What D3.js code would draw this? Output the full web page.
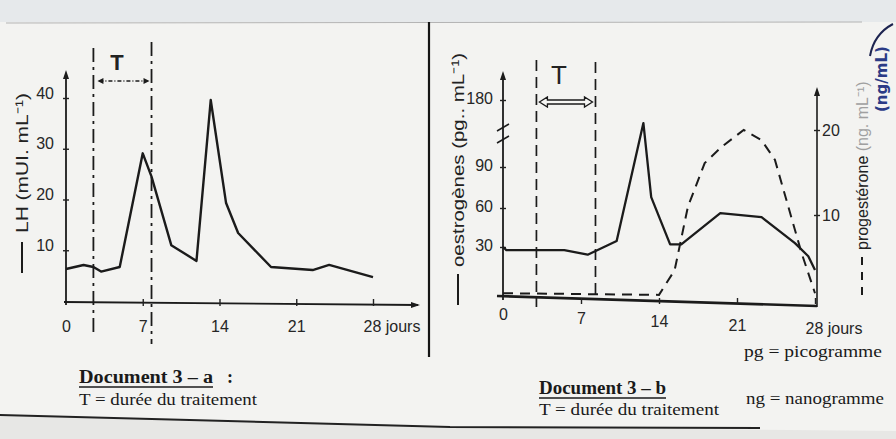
<!DOCTYPE html>
<html>
<head>
<meta charset="utf-8">
<script src="https://cdn.jsdelivr.net/npm/d3@7"></script>
<style>
  body { margin: 0; background: #e9e9e7; overflow: hidden; }
  svg { display: block; }
  .tick text { font-family: "Liberation Sans", Arial, sans-serif; font-size: 16px; fill: #262626; }
  .tick line { stroke: #222; stroke-width: 1.4; }
  .lbl { font-family: "Liberation Sans", Arial, sans-serif; fill: #222; }
  .doc { font-family: "Liberation Serif", "DejaVu Serif", serif; fill: #1a1a1a; }
</style>
</head>
<body>
<svg id="page" width="896" height="439"></svg>
<script>
const days = [0, 7, 14, 21, 28]

// Document 3-a : LH
const lhDays   = [0, 1.6, 2.5, 3.2, 4.9, 7.0, 7.8, 9.6, 11.9, 13.2, 14.6, 15.7, 18.7, 22.5, 24.0, 28]
const lhValues = [6.3, 7.1, 6.7, 5.8, 6.7, 29.1, 24.5, 11, 7.9, 39.6, 19.3, 13.4, 6.7, 6.1, 7.1, 4.7]
const lhTicks  = [10, 20, 30, 40]
const treatA   = [2.5, 7.8]

// Document 3-b : oestrogènes (trait plein) et progestérone (tirets)
const oeDays   = [0, 0.3, 5.5, 7.6, 10.2, 12.6, 13.3, 15.0, 16.0, 19.5, 23.2, 26.2, 27.4, 28]
const oeValues = [30, 28, 28, 25, 34.6, 149, 68, 32, 32, 56, 53, 33, 24, 15]
const oeTicks  = [30, 60, 90, 180]

const progDays   = [0, 14, 15.4, 16.6, 18.1, 19.6, 21.6, 23.2, 24.4, 25.6, 26.8, 28]
const progValues = [0.8, 0.6, 3.5, 11, 16.1, 18, 20, 18.8, 16.5, 11, 5.5, 0.8]
const progTicks  = [10, 20]
const treatB     = [3, 8.3]

const svg = d3.select("#page")

// fond "papier"
svg.append("rect").attr("width", 896).attr("height", 439).attr("fill", "#f3f3f1")
svg.append("rect").attr("width", 896).attr("height", 22).attr("fill", "#e6e9eb")
svg.append("line").attr("x1", 6).attr("x2", 862).attr("y1", 23).attr("y2", 22)
    .attr("stroke", "#b4b4b4").attr("stroke-width", 1)
svg.append("path").attr("d", "M0,415 L450,427 L896,431 L896,439 L0,439 Z").attr("fill", "#e7e7e5")
svg.append("path").attr("d", "M0,415 L450,427 L760,428").attr("fill", "none")
    .attr("stroke", "#222").attr("stroke-width", 2)

// séparateur vertical
svg.append("line").attr("x1", 429).attr("x2", 429).attr("y1", 22).attr("y2", 357)
    .attr("stroke", "#151515").attr("stroke-width", 2.2)

const ink = "#1b1b1b"

function arrowHead(g, x, y, dir) {
  // petite pointe de flèche pleine
  const p = dir === "up" ? [[x, y], [x - 3, y + 9], [x + 3, y + 9]]
                         : [[x, y], [x - 9, y - 3], [x - 9, y + 3]]
  g.append("path").attr("d", "M" + p.join("L") + "Z").attr("fill", ink)
}

// ---------------- Document 3-a ----------------
const gA = svg.append("g")
const xA = d3.scaleLinear().domain([0, 28]).range([66, 373])
const yA = d3.scaleLinear().domain([0, 40]).range([301, 98])

// axes
gA.append("line").attr("x1", 64).attr("y1", 302).attr("x2", 418).attr("y2", 305)
    .attr("stroke", ink).attr("stroke-width", 1.8)
arrowHead(gA, 420, 305, "right")
gA.append("line").attr("x1", 66).attr("y1", 305).attr("x2", 66).attr("y2", 74)
    .attr("stroke", ink).attr("stroke-width", 1.8)
arrowHead(gA, 66, 70, "up")

gA.append("g").attr("transform", "translate(0,299)")
    .call(d3.axisBottom(xA).tickValues(days).tickSize(7).tickPadding(15)
      .tickFormat(d => d === 28 ? "28 jours" : d))
    .call(g => g.select(".domain").remove())
    .call(g => g.selectAll(".tick").filter(d => d === 0).select("line").remove())
    .call(g => g.selectAll(".tick text").filter(d => d === 28).attr("text-anchor", "start").attr("x", -10))

gA.append("g").attr("transform", "translate(69,0)")
    .call(d3.axisLeft(yA).tickValues(lhTicks).tickSize(6).tickPadding(9))
    .call(g => g.select(".domain").remove())
    .call(g => g.selectAll(".tick text").attr("dy", "0"))

// durée du traitement
treatA.forEach((d, i) => {
  gA.append("line").attr("x1", xA(d)).attr("x2", xA(d))
      .attr("y1", i ? 42 : 48).attr("y2", i ? 344 : 332)
      .attr("stroke", ink).attr("stroke-width", 1.8).attr("stroke-dasharray", "14,5,3,5")
})
gA.append("line").attr("x1", xA(treatA[0]) + 6).attr("x2", xA(treatA[1]) - 4).attr("y1", 81).attr("y2", 81)
    .attr("stroke", ink).attr("stroke-width", 1.3).attr("stroke-dasharray", "4,2,1,2")
gA.append("path").attr("d", `M${xA(treatA[0]) + 4},81 l6,-3 l0,6 Z M${xA(treatA[1]) - 2},81 l-6,-3 l0,6 Z`).attr("fill", ink)
gA.append("text").attr("class", "lbl").attr("x", 117).attr("y", 70).attr("text-anchor", "middle")
    .attr("font-size", 22).attr("font-weight", "bold").text("T")

// courbe LH
gA.append("path")
    .attr("d", d3.line().x((d, i) => xA(lhDays[i])).y(d => yA(d))(lhValues))
    .attr("fill", "none").attr("stroke", ink).attr("stroke-width", 2.4).attr("stroke-linejoin", "round")

// titre d'axe
gA.append("text").attr("class", "lbl").attr("font-size", 17)
    .attr("transform", "translate(28,233) rotate(-90)")
    .attr("textLength", 140).attr("lengthAdjust", "spacingAndGlyphs")
    .text("LH (mUI. mL⁻¹)")
gA.append("line").attr("x1", 22).attr("x2", 22).attr("y1", 242).attr("y2", 273)
    .attr("stroke", ink).attr("stroke-width", 2)

// ---------------- Document 3-b ----------------
const gB = svg.append("g")
const xB = d3.scaleLinear().domain([0, 28]).range([503, 815])
// axe interrompu entre 90 et 180
const yOe = d3.scaleLinear().domain([0, 30, 60, 90, 180]).range([293, 247, 208, 167, 100])
const yPr = d3.scaleLinear().domain([0, 20]).range([300, 130])

gB.append("line").attr("x1", 497).attr("y1", 296).attr("x2", 817).attr("y2", 306)
    .attr("stroke", ink).attr("stroke-width", 2.6)
gB.append("line").attr("x1", 503).attr("y1", 300).attr("x2", 503).attr("y2", 76)
    .attr("stroke", ink).attr("stroke-width", 1.8)
arrowHead(gB, 503, 71, "up")
gB.append("line").attr("x1", 817).attr("y1", 307).attr("x2", 817).attr("y2", 92)
    .attr("stroke", ink).attr("stroke-width", 1.6)
arrowHead(gB, 817, 87, "up")
// marques de rupture
gB.append("path").attr("d", "M497,131 L509,124 M497,143 L509,136")
    .attr("stroke", ink).attr("stroke-width", 1.5)

gB.append("g").attr("transform", "translate(0,298)")
    .call(d3.axisBottom(xB).tickValues(days).tickSize(6).tickPadding(12)
      .tickFormat(d => d === 28 ? "28 jours" : d))
    .call(g => g.select(".domain").remove())
    .call(g => g.selectAll(".tick text").attr("y", d => 11 + d * 0.5))
    .call(g => g.selectAll(".tick").filter(d => d === 0).select("line").remove())
    .call(g => g.selectAll(".tick text").filter(d => d === 28).attr("text-anchor", "start").attr("x", -10))

gB.append("g").attr("transform", "translate(506,0)")
    .call(d3.axisLeft(yOe).tickValues(oeTicks).tickSize(6).tickPadding(7))
    .call(g => g.select(".domain").remove())
    .call(g => g.selectAll(".tick text").attr("dy", "0.2em"))

gB.append("g").attr("transform", "translate(814,0)")
    .call(d3.axisRight(yPr).tickValues(progTicks).tickSize(6).tickPadding(2))
    .call(g => g.select(".domain").remove())

// durée du traitement
treatB.forEach((d, i) => {
  gB.append("line").attr("x1", xB(d)).attr("x2", xB(d))
      .attr("y1", i ? 62 : 60).attr("y2", i ? 300 : 307)
      .attr("stroke", ink).attr("stroke-width", 1.7).attr("stroke-dasharray", "11,6")
})
gB.append("text").attr("class", "lbl").attr("x", 559).attr("y", 84).attr("text-anchor", "middle")
    .attr("font-size", 26).text("T")
gB.append("path")
    .attr("d", `M${xB(treatB[0]) + 3},102 l8,-5 l0,3 L${xB(treatB[1]) - 11},100 l0,-3 l8,5 l-8,5 l0,-3 L${xB(treatB[0]) + 11},104 l0,3 Z`)
    .attr("fill", "#f6f6f4").attr("stroke", ink).attr("stroke-width", 1.3)

// progestérone (tirets)
gB.append("path")
    .attr("d", d3.line().x((d, i) => xB(progDays[i])).y(d => yPr(d))(progValues))
    .attr("fill", "none").attr("stroke", ink).attr("stroke-width", 2).attr("stroke-dasharray", "10,7")

// oestrogènes (trait plein)
gB.append("path")
    .attr("d", d3.line().x((d, i) => xB(oeDays[i])).y(d => yOe(d))(oeValues))
    .attr("fill", "none").attr("stroke", ink).attr("stroke-width", 2.3).attr("stroke-linejoin", "round")

// titres d'axes
gB.append("text").attr("class", "lbl").attr("font-size", 17)
    .attr("transform", "translate(464,267) rotate(-90)")
    .attr("textLength", 214).attr("lengthAdjust", "spacingAndGlyphs")
    .text("oestrogènes (pg.. mL⁻¹)")
gB.append("line").attr("x1", 458).attr("x2", 458).attr("y1", 274).attr("y2", 305)
    .attr("stroke", ink).attr("stroke-width", 2)

const prLab = gB.append("text").attr("class", "lbl").attr("font-size", 16)
    .attr("transform", "translate(868,250) rotate(-90)")
prLab.append("tspan").text("progestérone ")
prLab.append("tspan").attr("fill", "#a0a0a0").text("(ng. mL⁻¹)")
gB.append("line").attr("x1", 862).attr("x2", 862).attr("y1", 257).attr("y2", 300)
    .attr("stroke", ink).attr("stroke-width", 2).attr("stroke-dasharray", "8,7")

// annotation manuscrite bleue
svg.append("text").attr("font-family", "DejaVu Sans, sans-serif").attr("font-size", 15)
    .attr("font-weight", "bold").attr("fill", "#2b3b86")
    .attr("transform", "translate(887,112) rotate(-90)").text("(ng/mL)")
svg.append("path").attr("d", "M870,56 Q874,34 893,24").attr("fill", "none")
    .attr("stroke", "#1d2450").attr("stroke-width", 2)

// ---------------- légendes du bas ----------------
function docTitle(x, y, w, txt, colon) {
  svg.append("text").attr("class", "doc").attr("x", x).attr("y", y).attr("font-size", 18)
      .attr("font-weight", "bold").attr("textLength", w).attr("lengthAdjust", "spacingAndGlyphs").text(txt)
  svg.append("line").attr("x1", x).attr("x2", x + w).attr("y1", y + 4).attr("y2", y + 4)
      .attr("stroke", ink).attr("stroke-width", 1.4)
  if (colon) svg.append("text").attr("class", "doc").attr("x", x + w + 14).attr("y", y)
      .attr("font-size", 18).attr("font-weight", "bold").text(":")
}
function docLine(x, y, w, txt) {
  svg.append("text").attr("class", "doc").attr("x", x).attr("y", y).attr("font-size", 17)
      .attr("textLength", w).attr("lengthAdjust", "spacingAndGlyphs").text(txt)
}
docTitle(79, 383, 134, "Document 3 – a", true)
docLine(79, 405, 178, "T = durée du traitement")
docTitle(539, 394, 127, "Document 3 – b", false)
docLine(539, 415, 180, "T = durée du traitement")
docLine(744, 357, 138, "pg = picogramme")
docLine(746, 404, 138, "ng = nanogramme")
</script>
</body>
</html>
